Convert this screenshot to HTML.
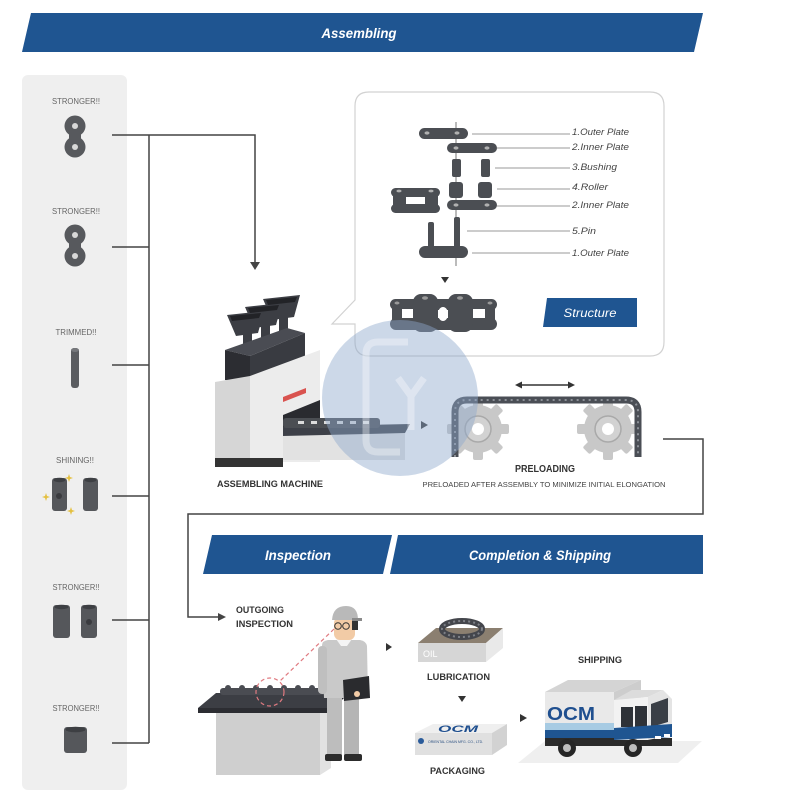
<!DOCTYPE html>
<html><head><meta charset="utf-8"><style>
html,body{margin:0;padding:0;background:#fff;}
svg{display:block;}
text{font-family:"Liberation Sans",sans-serif;}
</style></head><body>
<svg width="800" height="800" viewBox="0 0 800 800" xmlns="http://www.w3.org/2000/svg">
<rect width="800" height="800" fill="#fff"/>

<!-- Top banner -->
<polygon points="31,13 703,13 694,52 22,52" fill="#1f5591"/>
<text x="359" y="38" font-size="14" font-weight="bold" font-style="italic" fill="#fff" text-anchor="middle" textLength="75" lengthAdjust="spacingAndGlyphs">Assembling</text>

<!-- Left panel -->
<rect x="22" y="75" width="105" height="715" rx="6" fill="#efefef"/>
<g font-size="8" fill="#666" text-anchor="middle">
<text x="76" y="104" textLength="48" lengthAdjust="spacingAndGlyphs">STRONGER!!</text>
<text x="76" y="214" textLength="48" lengthAdjust="spacingAndGlyphs">STRONGER!!</text>
<text x="76" y="335" textLength="41" lengthAdjust="spacingAndGlyphs">TRIMMED!!</text>
<text x="75" y="463" textLength="38" lengthAdjust="spacingAndGlyphs">SHINING!!</text>
<text x="76" y="590" textLength="47" lengthAdjust="spacingAndGlyphs">STRONGER!!</text>
<text x="76" y="711" textLength="47" lengthAdjust="spacingAndGlyphs">STRONGER!!</text>
</g>
<!-- link 1 -->
<g fill="#57595d">
<circle cx="75" cy="126" r="10.5"/><circle cx="75" cy="147" r="10.5"/><rect x="69" y="126" width="12" height="21"/>
<circle cx="75" cy="235" r="10.5"/><circle cx="75" cy="256" r="10.5"/><rect x="69" y="235" width="12" height="21"/>
</g>
<g fill="#d8d8d8"><circle cx="75" cy="126" r="3"/><circle cx="75" cy="147" r="3"/><circle cx="75" cy="235" r="3"/><circle cx="75" cy="256" r="3"/></g>
<!-- trimmed pin -->
<rect x="71" y="348" width="8" height="40" rx="3" fill="#5a5c60"/>
<ellipse cx="75" cy="350" rx="4" ry="2" fill="#75777b"/>
<!-- shining -->
<rect x="52" y="478" width="15" height="33" rx="3" fill="#55575b"/>
<rect x="83" y="478" width="15" height="33" rx="3" fill="#55575b"/>
<ellipse cx="59.5" cy="480" rx="6" ry="2.2" fill="#3d3f43"/><ellipse cx="90.5" cy="480" rx="6" ry="2.2" fill="#3d3f43"/>
<circle cx="59" cy="496" r="3" fill="#3a3b3f"/>
<g fill="#e4c040">
<path d="M69,474 L70,477 L73,478 L70,479 L69,482 L68,479 L65,478 L68,477Z"/>
<path d="M46,493 L47,496 L50,497 L47,498 L46,501 L45,498 L42,497 L45,496Z"/>
<path d="M71,507 L72,510 L75,511 L72,512 L71,515 L70,512 L67,511 L70,510Z"/>
</g>
<!-- bushings -->
<rect x="53" y="605" width="17" height="33" rx="3" fill="#55575b"/>
<rect x="81" y="605" width="16" height="33" rx="3" fill="#55575b"/>
<ellipse cx="61.5" cy="607" rx="7" ry="2.2" fill="#3d3f43"/><ellipse cx="89" cy="607" rx="6.5" ry="2.2" fill="#3d3f43"/>
<circle cx="89" cy="622" r="3" fill="#3a3b3f"/>
<!-- roller -->
<rect x="64" y="727" width="23" height="26" rx="3" fill="#55575b"/>
<ellipse cx="75.5" cy="729.5" rx="10" ry="2.8" fill="#3d3f43"/>

<!-- connectors left -->
<g stroke="#444" stroke-width="1.5" fill="none">
<path d="M112,135 H255 V263"/>
<path d="M149,135 V743"/>
<path d="M112,247 H149 M112,365 H149 M112,496 H149 M112,620 H149 M112,743 H149"/>
</g>
<polygon points="250,262 260,262 255,270" fill="#444"/>

<!-- Structure panel -->
<path d="M369,92 H650 Q664,92 664,106 V342 Q664,356 650,356 H369 Q355,356 355,342 V324 H332 L355,300 V106 Q355,92 369,92 Z" fill="#fff" stroke="#d2d2d2" stroke-width="1.2"/>
<line x1="456" y1="122" x2="456" y2="266" stroke="#555" stroke-width="0.8"/>
<g fill="#4b4e53">
<rect x="419" y="128" width="49" height="11" rx="5.5"/>
<rect x="447" y="143" width="50" height="10" rx="5"/>
<rect x="452" y="159" width="9" height="18" rx="2"/>
<rect x="481" y="159" width="9" height="18" rx="2"/>
<rect x="449" y="182" width="14" height="16" rx="3"/>
<rect x="478" y="182" width="14" height="16" rx="3"/>
<rect x="447" y="200" width="50" height="10" rx="5"/>
<rect x="428" y="222" width="6" height="26" rx="2"/>
<rect x="454" y="217" width="6" height="31" rx="2"/>
<rect x="419" y="246" width="49" height="12" rx="6"/>
<!-- left inner link -->
<rect x="391" y="188" width="49" height="9" rx="4.5"/>
<rect x="391" y="204" width="49" height="9" rx="4.5"/>
<rect x="393" y="192" width="13" height="17" rx="3"/>
<rect x="425" y="192" width="13" height="17" rx="3"/>
</g>
<g fill="#b0b0b0">
<ellipse cx="427" cy="133" rx="2.5" ry="1.6"/><ellipse cx="457" cy="133" rx="2.5" ry="1.6"/>
<ellipse cx="456" cy="148" rx="2.5" ry="1.6"/><ellipse cx="487" cy="148" rx="2.5" ry="1.6"/>
<ellipse cx="456" cy="205" rx="2.5" ry="1.6"/><ellipse cx="487" cy="205" rx="2.5" ry="1.6"/>
<ellipse cx="399" cy="191" rx="2.5" ry="1.4"/><ellipse cx="431" cy="191" rx="2.5" ry="1.4"/>
</g>
<rect x="406" y="197" width="19" height="7" fill="#fff"/>
<g stroke="#777" stroke-width="0.8">
<line x1="472" y1="134" x2="570" y2="134"/>
<line x1="497" y1="148" x2="570" y2="148"/>
<line x1="495" y1="168" x2="570" y2="168"/>
<line x1="497" y1="189" x2="570" y2="189"/>
<line x1="497" y1="206" x2="570" y2="206"/>
<line x1="467" y1="231" x2="570" y2="231"/>
<line x1="472" y1="253" x2="570" y2="253"/>
</g>
<g font-size="9" font-style="italic" fill="#444">
<text x="572" y="135" textLength="57" lengthAdjust="spacingAndGlyphs">1.Outer Plate</text>
<text x="572" y="150" textLength="57" lengthAdjust="spacingAndGlyphs">2.Inner Plate</text>
<text x="572" y="170" textLength="45" lengthAdjust="spacingAndGlyphs">3.Bushing</text>
<text x="572" y="190" textLength="36" lengthAdjust="spacingAndGlyphs">4.Roller</text>
<text x="572" y="208" textLength="57" lengthAdjust="spacingAndGlyphs">2.Inner Plate</text>
<text x="572" y="234" textLength="24" lengthAdjust="spacingAndGlyphs">5.Pin</text>
<text x="572" y="256" textLength="57" lengthAdjust="spacingAndGlyphs">1.Outer Plate</text>
</g>
<polygon points="441,277 449,277 445,283" fill="#333"/>
<!-- assembled chain -->
<g fill="#4b4e53">
<rect x="390" y="299" width="107" height="11" rx="5.5"/>
<rect x="390" y="318" width="107" height="12" rx="6"/>
<rect x="413" y="294" width="25" height="38" rx="8"/>
<rect x="448" y="294" width="25" height="38" rx="8"/>
<rect x="392" y="305" width="10" height="18"/>
<rect x="485" y="305" width="10" height="18"/>
</g>
<rect x="402" y="309" width="11" height="9" fill="#fff"/>
<ellipse cx="443" cy="314" rx="5" ry="7" fill="#fff"/>
<rect x="473" y="309" width="12" height="9" fill="#fff"/>
<g fill="#9a9a9a"><ellipse cx="397" cy="303" rx="2.5" ry="1.5"/><ellipse cx="425" cy="298" rx="3" ry="1.7"/><ellipse cx="460" cy="298" rx="3" ry="1.7"/><ellipse cx="490" cy="303" rx="2.5" ry="1.5"/></g>
<!-- Structure label -->
<polygon points="547,298 637,298 637,327 543,327" fill="#1f5591"/>
<text x="590" y="317" font-size="12" font-style="italic" fill="#fff" text-anchor="middle" textLength="53" lengthAdjust="spacingAndGlyphs">Structure</text>

<!-- Machine -->
<!-- hoppers (back to front) -->
<g fill="#3c3e44">
<polygon points="263,299 300,295 294,317 272,320"/><rect x="279" y="317" width="9" height="15"/>
<polygon points="245,307 282,303 276,325 254,328"/><rect x="261" y="325" width="9" height="15"/>
<polygon points="227,315 264,311 258,333 236,336"/><rect x="243" y="333" width="9" height="17"/>
</g>
<g fill="#222327">
<polygon points="266,300 297,297 295,302 268,305"/>
<polygon points="248,308 279,305 277,310 250,313"/>
<polygon points="230,316 261,313 259,318 232,321"/>
</g>
<!-- dark block -->
<polygon points="225,350 287,328 305,333 250,356" fill="#4a4c53"/>
<polygon points="250,356 305,333 305,356 250,378" fill="#393b41"/>
<polygon points="225,350 250,356 250,383 225,380" fill="#2c2d32"/>
<!-- body -->
<polygon points="215,382 250,376 250,462 215,462" fill="#d6d6d6"/>
<polygon points="250,376 320,350 320,462 250,462" fill="#ececec"/>
<polygon points="283,397 306,388 306,393 283,402" fill="#d9534f"/>
<polygon points="283,415 320,400 320,428 283,430" fill="#2a2b30"/>
<rect x="283" y="433" width="122" height="27" fill="#e2e2e2"/>
<polygon points="215,458 283,458 283,467 215,467" fill="#333"/>
<!-- conveyor -->
<polygon points="283,427 410,424 405,433 283,436" fill="#3d4048"/>
<rect x="283" y="418" width="97" height="10" rx="3" fill="#4b4e53"/>
<g fill="#dcdcdc"><rect x="298" y="421" width="6" height="3"/><rect x="311" y="421" width="6" height="3"/><rect x="324" y="421" width="6" height="3"/><rect x="337" y="421" width="6" height="3"/><rect x="350" y="421" width="6" height="3"/><rect x="363" y="421" width="6" height="3"/></g>
<polygon points="421,421 421,429 428,425" fill="#333"/>
<text x="217" y="487" font-size="9.5" font-weight="bold" fill="#333" textLength="106" lengthAdjust="spacingAndGlyphs">ASSEMBLING MACHINE</text>

<!-- Preloading -->
<g fill="#c8c8c8">
<circle cx="478" cy="429" r="24"/>
<g transform="translate(478,429)">
<rect x="-5" y="-31" width="10" height="10" rx="2"/><rect x="-5" y="-31" width="10" height="10" rx="2" transform="rotate(45)"/><rect x="-5" y="-31" width="10" height="10" rx="2" transform="rotate(90)"/><rect x="-5" y="-31" width="10" height="10" rx="2" transform="rotate(135)"/><rect x="-5" y="-31" width="10" height="10" rx="2" transform="rotate(180)"/><rect x="-5" y="-31" width="10" height="10" rx="2" transform="rotate(225)"/><rect x="-5" y="-31" width="10" height="10" rx="2" transform="rotate(270)"/><rect x="-5" y="-31" width="10" height="10" rx="2" transform="rotate(315)"/>
</g>
<circle cx="608" cy="429" r="24"/>
<g transform="translate(608,429)">
<rect x="-5" y="-31" width="10" height="10" rx="2"/><rect x="-5" y="-31" width="10" height="10" rx="2" transform="rotate(45)"/><rect x="-5" y="-31" width="10" height="10" rx="2" transform="rotate(90)"/><rect x="-5" y="-31" width="10" height="10" rx="2" transform="rotate(135)"/><rect x="-5" y="-31" width="10" height="10" rx="2" transform="rotate(180)"/><rect x="-5" y="-31" width="10" height="10" rx="2" transform="rotate(225)"/><rect x="-5" y="-31" width="10" height="10" rx="2" transform="rotate(270)"/><rect x="-5" y="-31" width="10" height="10" rx="2" transform="rotate(315)"/>
</g>
</g>
<g fill="#d2d2d2" stroke="#a9a9a9" stroke-width="1.5"><circle cx="478" cy="429" r="13"/><circle cx="608" cy="429" r="13"/></g>
<g fill="#fff"><circle cx="478" cy="429" r="6"/><circle cx="608" cy="429" r="6"/></g>
<path d="M455,457 L455,412 Q455,400 467,400 L626,400 Q638,400 638,412 L638,457" fill="none" stroke="#4a4e55" stroke-width="7"/>
<path d="M455,457 L455,412 Q455,400 467,400 L626,400 Q638,400 638,412 L638,457" fill="none" stroke="#8c9097" stroke-width="2" stroke-dasharray="2 4"/>
<line x1="521" y1="385" x2="569" y2="385" stroke="#333" stroke-width="1.5"/>
<polygon points="515,385 522,381.5 522,388.5" fill="#333"/>
<polygon points="575,385 568,381.5 568,388.5" fill="#333"/>
<text x="545" y="472" font-size="10.5" font-weight="bold" fill="#333" text-anchor="middle" textLength="60" lengthAdjust="spacingAndGlyphs">PRELOADING</text>
<text x="544" y="487" font-size="7.5" fill="#444" text-anchor="middle" textLength="243" lengthAdjust="spacingAndGlyphs">PRELOADED AFTER ASSEMBLY TO MINIMIZE INITIAL ELONGATION</text>

<!-- Watermark -->
<circle cx="400" cy="398" r="78" fill="rgb(142,168,204)" opacity="0.45"/>
<g fill="none" stroke="#fff" stroke-opacity="0.35" stroke-width="7">
<path d="M408,342 H378 Q366,342 366,354 V440 Q366,452 378,452 H400"/>
<path d="M398,378 L411,396 L424,378 M411,396 V430"/>
</g>

<!-- connector after preloading -->
<path d="M663,439 H703 V514 H188 V617 H219" fill="none" stroke="#444" stroke-width="1.5"/>
<polygon points="218,613 218,621 226,617" fill="#444"/>

<!-- Banners -->
<polygon points="212,535 392,535 383,574 203,574" fill="#1f5591"/>
<text x="298" y="560" font-size="14" font-weight="bold" font-style="italic" fill="#fff" text-anchor="middle" textLength="66" lengthAdjust="spacingAndGlyphs">Inspection</text>
<polygon points="398,535 703,535 703,574 390,574" fill="#1f5591"/>
<text x="540" y="560" font-size="14" font-weight="bold" font-style="italic" fill="#fff" text-anchor="middle" textLength="142" lengthAdjust="spacingAndGlyphs">Completion &amp; Shipping</text>

<!-- Inspection -->
<text x="236" y="613" font-size="9.5" font-weight="bold" fill="#333" textLength="48" lengthAdjust="spacingAndGlyphs">OUTGOING</text>
<text x="236" y="627" font-size="9.5" font-weight="bold" fill="#333" textLength="57" lengthAdjust="spacingAndGlyphs">INSPECTION</text>
<!-- table -->
<rect x="216" y="712" width="104" height="63" fill="#cfcfcf"/>
<polygon points="320,712 331,705 331,768 320,775" fill="#e2e2e2"/>
<polygon points="198,708 216,693 344,693 328,708" fill="#3c3e44"/>
<polygon points="198,708 328,708 328,713 198,713" fill="#2c2d32"/>
<polygon points="328,708 344,693 344,698 328,713" fill="#2c2d32"/>
<rect x="220" y="688" width="120" height="7" rx="3" fill="#4a4c52"/>
<g fill="#4a4c52"><circle cx="228" cy="688" r="3"/><circle cx="242" cy="688" r="3"/><circle cx="256" cy="688" r="3"/><circle cx="270" cy="688" r="3"/><circle cx="284" cy="688" r="3"/><circle cx="298" cy="688" r="3"/><circle cx="312" cy="688" r="3"/><circle cx="326" cy="688" r="3"/></g>
<!-- worker -->
<rect x="327" y="697" width="15" height="59" fill="#bdbdbd"/>
<rect x="344" y="697" width="15" height="59" fill="#b5b5b5"/>
<rect x="325" y="754" width="17" height="7" rx="2" fill="#2c2c2c"/>
<rect x="344" y="754" width="18" height="7" rx="2" fill="#2c2c2c"/>
<path d="M322,645 Q322,641 328,640 H360 Q366,641 367,646 L368,698 H324 Z" fill="#c9c9c9"/>
<rect x="318" y="646" width="9" height="48" rx="4" fill="#bfbfbf"/>
<polygon points="336,639 352,639 347,646 341,646" fill="#f4f4f4"/>
<rect x="334" y="617" width="21" height="23" rx="6" fill="#f2cba6"/>
<path d="M352,618 H358 V630 H352 Z" fill="#333"/>
<path d="M332,620 Q333,606 346,606 Q358,606 358,620 Z" fill="#b9b9b9"/>
<rect x="352" y="618" width="10" height="3" fill="#8a8a8a"/>
<g fill="none" stroke="#333" stroke-width="1"><circle cx="338" cy="626" r="3.3"/><circle cx="346" cy="626" r="3.3"/></g>
<polygon points="343,680 369,676 370,698 344,701" fill="#2a2b2e"/>
<circle cx="357" cy="694" r="3" fill="#f2cba6"/>
<line x1="334" y1="629" x2="280" y2="681" stroke="#e07a80" stroke-width="1.2" stroke-dasharray="4 3"/>
<circle cx="270" cy="692" r="14" fill="none" stroke="#e07a80" stroke-width="1.2" stroke-dasharray="4 3"/>
<polygon points="386,643 386,651 392,647" fill="#333"/>

<!-- Lubrication -->
<polygon points="418,643 436,628 503,628 486,643" fill="#8b7f70"/>
<ellipse cx="462" cy="629" rx="20" ry="8" fill="none" stroke="#44464c" stroke-width="6"/>
<ellipse cx="462" cy="629" rx="20" ry="8" fill="none" stroke="#7d8087" stroke-width="2" stroke-dasharray="2 3"/>
<rect x="418" y="643" width="68" height="19" fill="#d6d6d6"/>
<polygon points="486,643 503,628 503,648 486,662" fill="#e9e9e9"/>
<text x="423" y="657" font-size="9" fill="#fff">OIL</text>
<text x="427" y="680" font-size="9.5" font-weight="bold" fill="#333" textLength="63" lengthAdjust="spacingAndGlyphs">LUBRICATION</text>
<polygon points="458,696 466,696 462,702" fill="#333"/>
<!-- Packaging -->
<polygon points="415,733 433,724 507,724 492,733" fill="#efefef"/>
<rect x="415" y="733" width="77" height="22" fill="#e0e0e0"/>
<polygon points="492,733 507,724 507,745 492,755" fill="#d2d2d2"/>
<text x="438" y="732" font-size="9" font-weight="bold" font-style="italic" fill="#1f4f8f" textLength="40" lengthAdjust="spacingAndGlyphs">OCM</text>
<circle cx="421" cy="741" r="3" fill="#2a5b9a"/>
<text x="428" y="743" font-size="3.5" fill="#2a4f80">ORIENTAL CHAIN MFG. CO., LTD.</text>
<text x="430" y="774" font-size="9.5" font-weight="bold" fill="#333" textLength="55" lengthAdjust="spacingAndGlyphs">PACKAGING</text>
<polygon points="520,714 520,722 527,718" fill="#333"/>
<!-- Shipping -->
<text x="578" y="663" font-size="9.5" font-weight="bold" fill="#333" textLength="44" lengthAdjust="spacingAndGlyphs">SHIPPING</text>
<polygon points="518,763 545,741 702,741 678,763" fill="#efefef"/>
<polygon points="545,692 568,680 641,680 614,692" fill="#d4d4d4"/>
<polygon points="614,692 641,680 641,700 614,700" fill="#cdcdcd"/>
<rect x="545" y="692" width="69" height="48" fill="#e9e9e9"/>
<text x="547" y="720" font-size="18" font-weight="bold" fill="#1f4f8f" textLength="48" lengthAdjust="spacingAndGlyphs">OCM</text>
<rect x="545" y="723" width="69" height="7" fill="#a7cbe3"/>
<rect x="545" y="730" width="69" height="8" fill="#1f5591"/>
<rect x="545" y="738" width="127" height="8" fill="#2b2b2b"/>
<polygon points="614,700 632,690 663,690 648,697" fill="#dcdcdc"/>
<polygon points="614,700 648,697 648,740 614,740" fill="#f2f2f2"/>
<polygon points="648,697 663,690 672,699 672,735 648,740" fill="#e4e4e4"/>
<rect x="621" y="707" width="12" height="20" fill="#2e3238"/>
<rect x="635" y="706" width="12" height="21" fill="#2e3238"/>
<polygon points="651,704 668,698 668,722 651,727" fill="#3a3f46"/>
<polygon points="614,728 672,724 672,737 614,740" fill="#1f5591"/>
<rect x="655" y="736" width="6" height="3" fill="#fff"/><rect x="664" y="734" width="6" height="3" fill="#fff"/>
<circle cx="567" cy="748" r="9" fill="#262626"/><circle cx="567" cy="748" r="4" fill="#bdbdbd"/>
<circle cx="633" cy="748" r="9" fill="#262626"/><circle cx="633" cy="748" r="4" fill="#bdbdbd"/>
</svg>
</body></html>
